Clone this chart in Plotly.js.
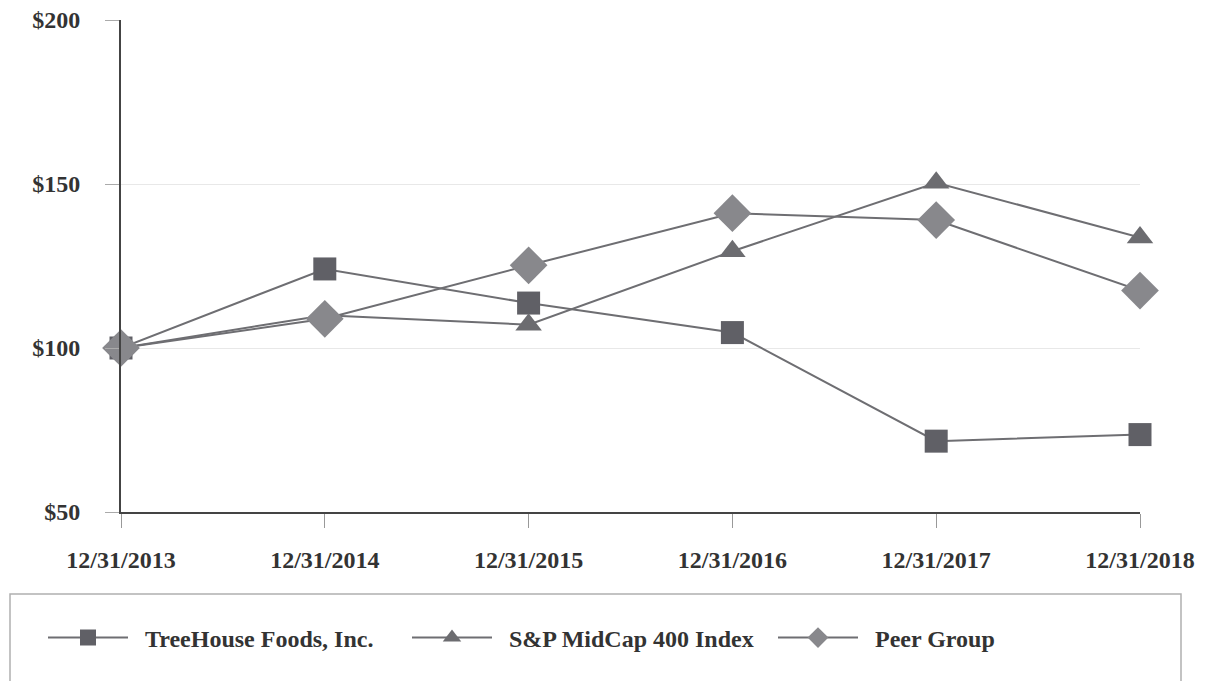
<!DOCTYPE html>
<html>
<head>
<meta charset="utf-8">
<script src="https://cdn.plot.ly/plotly-3.0.1.min.js"></script>
<style>html,body{margin:0;padding:0;background:#fff;}#chart{width:1208px;height:681px;}</style>
</head>
<body>
<div id="chart"></div>
<script>
const dates = ["12/31/2013", "12/31/2014", "12/31/2015", "12/31/2016", "12/31/2017", "12/31/2018"];
const treehouse = [100, 124.1, 113.7, 104.7, 71.6, 73.6];
const spMidcap = [100, 110, 107.1, 129.5, 150.4, 133.7];
const peerGroup = [100, 108.9, 125.2, 141.1, 139.0, 117.5];
const yTicks = [50, 100, 150, 200];
const yTickText = ["$50", "$100", "$150", "$200"];
const seriesNames = ["TreeHouse Foods, Inc.", "S&P MidCap 400 Index", "Peer Group"];

const idx = dates.map((d, i) => i);
const lineColor = "#6e6e72";
const font = {family: "Liberation Serif, Times New Roman, serif", color: "#333333"};

function series(name, y, symbol, size, color, legendId) {
  return {
    x: idx, y: y, name: "&nbsp;&nbsp;<b>" + name + "</b>", type: "scatter", mode: "lines+markers",
    cliponaxis: false, legend: legendId,
    line: {color: lineColor, width: 2},
    marker: {symbol: symbol, size: size, color: color, line: {width: 0}}
  };
}

const data = [
  series(seriesNames[0], treehouse, "square", 23, "#606066", "legend"),
  series(seriesNames[1], spMidcap, "triangle-up", 23, "#6c6c70", "legend2"),
  series(seriesNames[2], peerGroup, "diamond", 29, "#88888c", "legend3")
];

function legendAt(px) {
  return {
    orientation: "h", x: (px - 121) / 1019, y: (512 - 638) / 492, xref: "paper", yref: "paper",
    xanchor: "left", yanchor: "middle",
    itemwidth: 80, itemsizing: "trace",
    font: Object.assign({size: 24}, font),
    bgcolor: "rgba(0,0,0,0)", borderwidth: 0
  };
}

const layout = {
  width: 1208, height: 681,
  margin: {l: 121, r: 68, t: 20, b: 169},
  paper_bgcolor: "#ffffff", plot_bgcolor: "#ffffff",
  font: Object.assign({size: 24}, font),
  showlegend: true,
  legend: legendAt(43),
  legend2: legendAt(407),
  legend3: legendAt(773),
  xaxis: {
    range: [0, 5], tickvals: idx, ticktext: dates.map(d => "<b>" + d + "</b>"),
    showgrid: false, zeroline: false,
    showline: true, linecolor: "#444444", linewidth: 2,
    ticks: "outside", ticklen: 14, tickcolor: "#999999", tickwidth: 1,
    ticklabelstandoff: 11,
    tickfont: Object.assign({size: 24}, font), fixedrange: true
  },
  yaxis: {
    range: [50, 200], tickvals: yTicks, ticktext: yTickText.map(t => "<b>" + t + "</b>"),
    showgrid: true, gridcolor: "#e8e8e8", gridwidth: 1, zeroline: false,
    showline: true, linecolor: "#444444", linewidth: 2,
    ticks: "outside", ticklen: 14, tickcolor: "#aaaaaa", tickwidth: 1,
    ticklabelstandoff: 20,
    tickfont: Object.assign({size: 24}, font), fixedrange: true
  },
  shapes: [
    {type: "rect", xref: "paper", yref: "paper",
     x0: (10 - 121) / 1019, x1: (1181 - 121) / 1019,
     y0: (512 - 700) / 492, y1: (512 - 594) / 492,
     line: {color: "#b0b0b0", width: 1.5}, fillcolor: "rgba(0,0,0,0)"}
  ]
};

Plotly.newPlot("chart", data, layout, {displayModeBar: false, staticPlot: true});
</script>
</body>
</html>
